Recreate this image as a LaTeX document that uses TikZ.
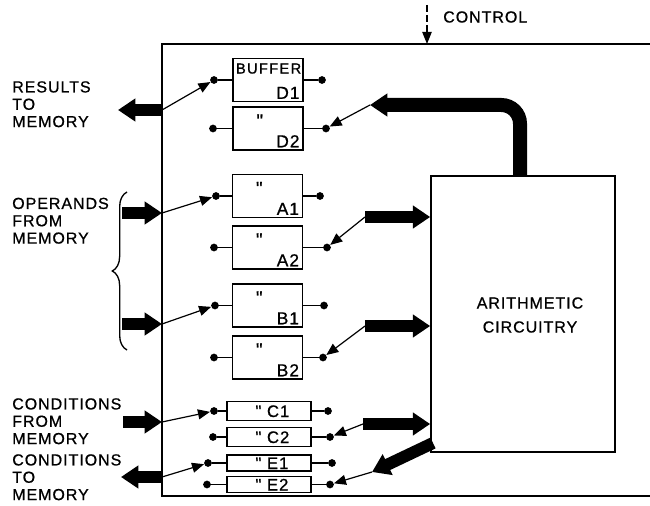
\documentclass[tikz,border=0pt]{standalone}
\usepackage{fontspec}
\setmainfont{Liberation Sans}
\newfontfamily\lblfont{Liberation Sans}[LetterSpace=6,FakeBold=0.8]
\newfontfamily\buffont{Liberation Sans}[LetterSpace=9,FakeBold=0.8]
\usetikzlibrary{arrows.meta,decorations.pathreplacing}
\begin{document}
\begin{tikzpicture}[x=0.75pt,y=-0.75pt,
  frame/.style={line width=1.5pt},
  buf/.style={draw,line width=1.2pt,inner sep=0pt,minimum width=52.5pt,minimum height=32.25pt},
  sbuf/.style={draw,line width=1.2pt,inner sep=0pt,minimum width=63pt},
  dot/.style={circle,fill,inner sep=0pt,minimum size=5.8pt},
  wire/.style={line width=0.9pt},
  sw/.style={line width=0.9pt,-{Triangle[length=9pt,width=7.5pt]}},
  fat/.style={line width=8.5pt,-{Triangle[length=13pt,width=16.5pt]}},
  fatr/.style={line width=9pt,-{Triangle[length=13pt,width=16.5pt]}},
  fatb/.style={line width=10.5pt,-{Triangle[length=13pt,width=16.5pt]}},
  lbl/.style={font=\lblfont\fontsize{12}{13}\selectfont,inner sep=0pt,align=left},
  boxlbl/.style={font=\lblfont\fontsize{13}{14}\selectfont,inner sep=0pt},
  sboxlbl/.style={font=\lblfont\fontsize{12.5}{14}\selectfont,inner sep=0pt},
  dit/.style={font=\lblfont\fontsize{14}{15}\selectfont,inner sep=0pt,anchor=north west}
]
\useasboundingbox (0,0) rectangle (650,506);
% outer frame
\draw[frame] (650,44) -- (162,44) -- (162,496) -- (650,496);
% control
\coordinate (ctop) at (427,5);
\coordinate (cbot) at (427,44);
\draw[line width=0.9pt,dash pattern=on 5pt off 2.5pt,-{Triangle[length=9pt,width=7pt]}] (ctop) -- (cbot);
\node[lbl,anchor=west] (ctl) at (443,17) {CONTROL};
% buffers
\node[buf] (d1) at (268,80) {};
\node[buf] (d2) at (268,128.5) {};
\node[buf] (a1) at (267.5,196) {};
\node[buf] (a2) at (267.5,247.5) {};
\node[buf] (b1) at (267.5,305.5) {};
\node[buf] (b2) at (267.5,357.5) {};
\node[sbuf,minimum height=14.25pt] (c1) at (269,411) {};
\node[sbuf,minimum height=14.25pt] (c2) at (269,437) {};
\node[sbuf,minimum height=12pt] (e1) at (269,463) {};
\node[sbuf,minimum height=12pt] (e2) at (269,484.5) {};
% dots
\node[dot] (d1-l) at (214,80) {};   \node[dot] (d1-r) at (322,80) {};
\node[dot] (d2-l) at (213,128.5) {}; \node[dot] (d2-r) at (326,128.5) {};
\node[dot] (a1-l) at (216,196) {};  \node[dot] (a1-r) at (320,196) {};
\node[dot] (a2-l) at (214,247.5) {}; \node[dot] (a2-r) at (327,247.5) {};
\node[dot] (b1-l) at (215,305.5) {}; \node[dot] (b1-r) at (324,305.5) {};
\node[dot] (b2-l) at (214,357.5) {}; \node[dot] (b2-r) at (323,357.5) {};
\node[dot] (c1-l) at (214,411) {};  \node[dot] (c1-r) at (328,411) {};
\node[dot] (c2-l) at (213,437) {};  \node[dot] (c2-r) at (330,437) {};
\node[dot] (e1-l) at (208,463) {};  \node[dot] (e1-r) at (332,463) {};
\node[dot] (e2-l) at (207,484.5) {}; \node[dot] (e2-r) at (330,484.5) {};
\foreach \b in {d1,d2,a1,a2,b1,b2,c1,c2,e1,e2}{
  \draw[wire] (\b-l) -- (\b);
  \draw[wire] (\b) -- (\b-r);
}
% box texts
\node[anchor=north west,inner sep=0pt,font=\buffont\fontsize{11}{12}\selectfont] (buft) at ([shift={(3.5,5.5)}]d1.north west) {BUFFER};
\node[boxlbl,anchor=base east] (d1t) at ([shift={(-4,-3.5)}]d1.south east) {D1};
\node[boxlbl,anchor=base east] (d2t) at ([shift={(-4,-3.5)}]d2.south east) {D2};
\node[boxlbl,anchor=base east] (a1t) at ([shift={(-4,-3.5)}]a1.south east) {A1};
\node[boxlbl,anchor=base east] (a2t) at ([shift={(-4,-3.5)}]a2.south east) {A2};
\node[boxlbl,anchor=base east] (b1t) at ([shift={(-4,-3.5)}]b1.south east) {B1};
\node[boxlbl,anchor=base east] (b2t) at ([shift={(-4,-3.5)}]b2.south east) {B2};
\foreach \b in {d2,a1,a2,b1,b2}{
  \node[dit] (\b-q) at ([shift={(24,8)}]\b.north west) {"};
}
\node[sboxlbl,anchor=base west] (c1t) at ([shift={(29,6)}]c1.west) {" C1};
\node[sboxlbl,anchor=base west] (c2t) at ([shift={(29,6)}]c2.west) {" C2};
\node[sboxlbl,anchor=base west] (e1t) at ([shift={(29,6)}]e1.west) {" E1};
\node[sboxlbl,anchor=base west] (e2t) at ([shift={(29,6)}]e2.west) {" E2};
% arithmetic
\node[draw,line width=1.2pt,inner sep=0pt,minimum width=138pt,minimum height=207pt] (arith) at (523,314) {};
\node[lbl] (art1) at (530,303) {ARITHMETIC};
\node[lbl] (art2) at (530,327) {CIRCUITRY};
% left labels
\node[lbl,anchor=north west] (res) at (12,81) {RESULTS\\TO\\MEMORY};
\node[lbl,anchor=north west] (opm) at (12,197.5) {OPERANDS\\FROM\\MEMORY};
\node[lbl,anchor=north west] (cfm) at (12,398) {CONDITIONS\\FROM\\MEMORY};
\node[lbl,anchor=north west] (ctm) at (12,454) {CONDITIONS\\TO\\MEMORY};
\draw[line width=1pt,decorate,decoration={brace,amplitude=11pt}] (127,350) -- (127,192);
% left thick arrows and switches
\coordinate (rin) at (162,110);  \coordinate (rout) at (118,110);
\draw[fat] (rin) -- (rout);
\draw[sw] (rin) -- (d1-l);
\coordinate (oa) at (122,213);  \coordinate (oai) at (162,213);
\draw[fat] (oa) -- (oai);
\draw[sw] (oai) -- (a1-l);
\coordinate (ob) at (122,324);  \coordinate (obi) at (162,324);
\draw[fat] (ob) -- (obi);
\draw[sw] (obi) -- (b1-l);
\coordinate (ca) at (123,422);  \coordinate (cai) at (162,422);
\draw[fat] (ca) -- (cai);
\draw[sw] (cai) -- (c1-l);
\coordinate (ein) at (162,477);  \coordinate (eout) at (121,477);
\draw[fat] (ein) -- (eout);
\draw[sw] (ein) -- (e1-l);
% right thick arrows and switches
\coordinate (btail) at (520,176);  \coordinate (dtip) at (370,105);
\draw[fatb,rounded corners=14pt] (btail) -- (btail |- dtip) -- (dtip);
\draw[sw] (dtip) -- (d2-r);
\coordinate (aa) at (365,217);
\draw[fatr] (aa) -- (aa -| arith.west);
\draw[sw] (aa) -- (a2-r);
\coordinate (bb) at (365,326);
\draw[fatr] (bb) -- (bb -| arith.west);
\draw[sw] (bb) -- (b2-r);
\coordinate (cc) at (363,424);
\draw[fatr] (cc) -- (cc -| arith.west);
\draw[sw] (cc) -- (c2-r);
\coordinate (etail) at (433,443);  \coordinate (etip) at (372,472);
\draw[fatr] (etail) -- (etip);
\draw[sw] (etip) -- (e2-r);
\end{tikzpicture}
\end{document}
